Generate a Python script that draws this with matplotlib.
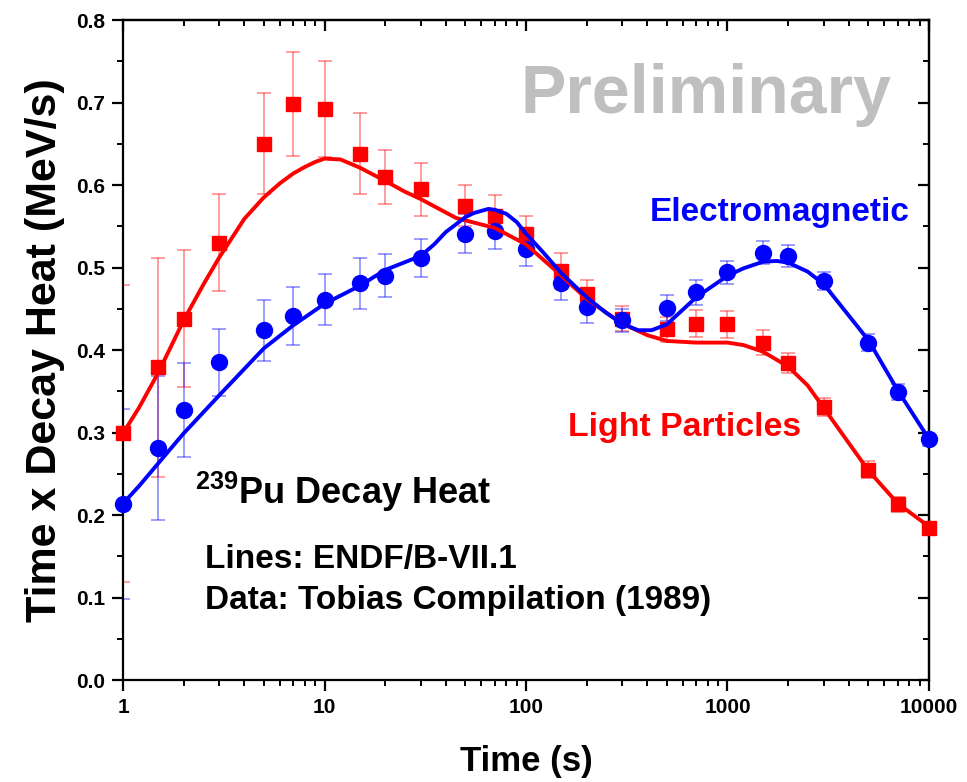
import numpy as np
import matplotlib
matplotlib.use("Agg")
import matplotlib.pyplot as plt
from matplotlib.ticker import FixedLocator, NullFormatter, MultipleLocator

t_data = [1, 1.5, 2, 3, 5, 7, 10, 15, 20, 30, 50, 70, 100, 150, 200, 300,
          500, 700, 1000, 1500, 2000, 3000, 5000, 7000, 10000]
lp_data = [0.299, 0.379, 0.438, 0.530, 0.650, 0.698, 0.692, 0.638, 0.610, 0.595,
           0.575, 0.563, 0.541, 0.496, 0.468, 0.438, 0.425, 0.432, 0.431, 0.409,
           0.384, 0.331, 0.255, 0.213, 0.184]
lp_err = [0.180, 0.133, 0.083, 0.059, 0.061, 0.063, 0.058, 0.049, 0.033, 0.032,
          0.025, 0.025, 0.021, 0.022, 0.017, 0.015, 0.015, 0.016, 0.016, 0.015,
          0.012, 0.011, 0.010, 0.009, 0.008]
em_data = [0.213, 0.281, 0.327, 0.385, 0.424, 0.441, 0.461, 0.481, 0.490, 0.511,
           0.541, 0.544, 0.523, 0.481, 0.452, 0.436, 0.451, 0.470, 0.494, 0.518,
           0.514, 0.484, 0.409, 0.349, 0.292]
em_err = [0.115, 0.087, 0.057, 0.041, 0.037, 0.035, 0.031, 0.031, 0.026, 0.023,
          0.024, 0.022, 0.021, 0.020, 0.019, 0.014, 0.016, 0.015, 0.014, 0.014,
          0.013, 0.011, 0.010, 0.010, 0.008]

# ENDF/B-VII.1 curves
t_lp_line = [1, 1.2, 1.5, 2, 2.5, 3, 4, 5, 6, 7, 8, 9, 10, 12, 15, 20, 25, 30,
             45, 70, 100, 150, 200, 300, 400, 500, 700, 1000, 1200, 1500, 2000,
             2500, 3000, 5000, 7000, 10000]
lp_line = [0.299, 0.330, 0.373, 0.436, 0.479, 0.512, 0.559, 0.585, 0.602, 0.614,
           0.622, 0.628, 0.632, 0.631, 0.621, 0.605, 0.592, 0.583, 0.560, 0.548,
           0.528, 0.490, 0.462, 0.432, 0.418, 0.411, 0.409, 0.409, 0.406, 0.398,
           0.380, 0.357, 0.330, 0.254, 0.214, 0.186]
t_em_line = [1, 1.2, 1.5, 2, 3, 5, 7, 10, 15, 20, 30, 35, 40, 50, 55, 65, 70, 80,
             90, 100, 120, 150, 200, 250, 300, 360, 420, 500, 700, 1000, 1200,
             1500, 1750, 2000, 2500, 3000, 5000, 7000, 10000]
em_line = [0.214, 0.235, 0.263, 0.299, 0.345, 0.402, 0.430, 0.456, 0.478, 0.497,
           0.514, 0.528, 0.543, 0.561, 0.566, 0.571, 0.570, 0.565, 0.555, 0.541,
           0.520, 0.493, 0.464, 0.445, 0.432, 0.424, 0.424, 0.431, 0.464, 0.490,
           0.499, 0.507, 0.508, 0.506, 0.495, 0.480, 0.412, 0.351, 0.292]

x_ticks = [1, 10, 100, 1000, 10000]
x_ticklabels = ["1", "10", "100", "1000", "10000"]

plt.rcParams['font.family'] = ['Liberation Sans', 'DejaVu Sans']
plt.rcParams['font.weight'] = 'bold'
plt.rcParams['mathtext.fontset'] = 'custom'
plt.rcParams['mathtext.bf'] = 'Liberation Sans:bold'
plt.rcParams['mathtext.rm'] = 'Liberation Sans:bold'

RED = '#ff0000'
BLUE = '#0000ff'

fig = plt.figure(figsize=(9.67, 7.82), dpi=100)
ax = fig.add_axes([0.1272, 0.1304, 0.8335, 0.844])

ax.errorbar(t_data, lp_data, yerr=lp_err, fmt='none', ecolor=RED, alpha=0.45,
            elinewidth=1.2, capsize=5, capthick=1.2, zorder=2)
ax.errorbar(t_data, em_data, yerr=em_err, fmt='none', ecolor=BLUE, alpha=0.45,
            elinewidth=1.2, capsize=5, capthick=1.2, zorder=2)
ax.plot(t_data, lp_data, 's', color=RED, markersize=10.5, zorder=3, clip_on=False)
ax.plot(t_data, em_data, 'o', color=BLUE, markersize=11.5, zorder=3, clip_on=False)
ax.plot(t_lp_line, lp_line, '-', color=RED, linewidth=2.8, zorder=4,
        solid_joinstyle='round')
ax.plot(t_em_line, em_line, '-', color=BLUE, linewidth=2.8, zorder=4,
        solid_joinstyle='round')

ax.set_xscale('log')
ax.set_xlim(1, 10000)
ax.set_ylim(0, 0.8)
ax.xaxis.set_major_locator(FixedLocator(x_ticks))
ax.set_xticklabels(x_ticklabels)
ax.xaxis.set_minor_locator(FixedLocator(
    [m * 10 ** k for k in range(4) for m in range(2, 10)]))
ax.xaxis.set_minor_formatter(NullFormatter())
ax.yaxis.set_major_locator(MultipleLocator(0.1))
ax.yaxis.set_minor_locator(MultipleLocator(0.05))
ax.yaxis.set_major_formatter(plt.FuncFormatter(lambda v, p: f"{v:.1f}"))

for s in ax.spines.values():
    s.set_linewidth(1.6)
ax.tick_params(which='major', direction='out', length=8, width=1.6,
               labelsize=15, pad=5)
ax.tick_params(which='minor', direction='out', length=4.5, width=1.4)

# mirrored inward ticks on top and right
top = ax.secondary_xaxis('top')
top.set_xscale('log')
top.xaxis.set_major_locator(FixedLocator(x_ticks))
top.xaxis.set_minor_locator(FixedLocator(
    [m * 10 ** k for k in range(4) for m in range(2, 10)]))
top.tick_params(which='major', direction='in', length=8, width=1.6, labeltop=False)
top.tick_params(which='minor', direction='in', length=4.5, width=1.4)
top.spines['top'].set_linewidth(1.6)
right = ax.secondary_yaxis('right')
right.yaxis.set_major_locator(MultipleLocator(0.1))
right.yaxis.set_minor_locator(MultipleLocator(0.05))
right.tick_params(which='major', direction='in', length=8, width=1.6, labelright=False)
right.tick_params(which='minor', direction='in', length=4.5, width=1.4)
right.spines['right'].set_linewidth(1.6)

ax.set_xlabel("Time (s)", fontsize=25, fontweight='bold', labelpad=20)
ax.set_ylabel("Time x Decay Heat (MeV/s)", fontsize=31, fontweight='bold', labelpad=8)

tr = ax.transAxes
ax.text(0.4926, 0.886, "Preliminary", transform=tr, fontsize=49, color='#bfbfbf',
        fontweight='bold', ha='left', va='center')
ax.text(0.654, 0.709, "Electromagnetic", transform=tr, fontsize=24, color=BLUE,
        fontweight='bold', ha='left', va='center')
ax.text(0.552, 0.382, "Light Particles", transform=tr, fontsize=24.4, color=RED,
        fontweight='bold', ha='left', va='center')
ax.text(0.0893, 0.285, r"$\mathbf{^{239}}$Pu Decay Heat", transform=tr, fontsize=26,
        color='black', fontweight='bold', ha='left', va='center')
ax.text(0.102, 0.182, "Lines: ENDF/B-VII.1", transform=tr, fontsize=24,
        color='black', fontweight='bold', ha='left', va='center')
ax.text(0.102, 0.121, "Data: Tobias Compilation (1989)", transform=tr, fontsize=24,
        color='black', fontweight='bold', ha='left', va='center')

fig.savefig("out.png", dpi=100)
